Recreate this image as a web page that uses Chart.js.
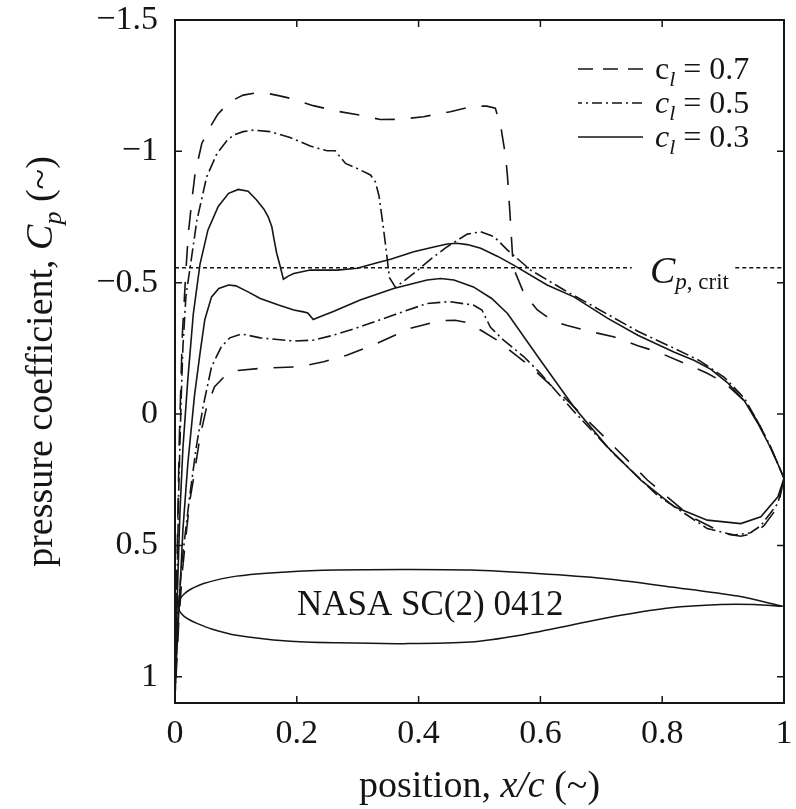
<!DOCTYPE html>
<html>
<head>
<meta charset="utf-8">
<script src="https://cdn.jsdelivr.net/npm/chart.js@4.4.1/dist/chart.umd.min.js"></script>
<style>
    html, body { margin: 0; padding: 0; background: #ffffff; }
    #wrap { position: relative; width: 796px; height: 809px; }
</style>
</head>
<body>
<div id="wrap"><canvas id="cpChart"></canvas></div>
<script>
"use strict";

/*==========================================================
    Pressure distribution, NASA SC(2) 0412
    x/c against Cp for three lift coefficients
==========================================================*/

const xTicks = [0, 0.2, 0.4, 0.6, 0.8, 1];
const yTicks = [-1.5, -1, -0.5, 0, 0.5, 1];

const seriesLabels = ["0.7", "0.5", "0.3"];

const cpCrit = -0.557;
const cpCritGap = [0.75, 0.92];   // where the label sits

// [x/c, Cp] — each surface runs from leading edge to trailing edge

const cl07Upper = [
    [0, 1.08], [0.003, 0.6], [0.007, 0.1], [0.012, -0.3], [0.018, -0.55],
    [0.022, -0.69], [0.028, -0.82], [0.033, -0.916], [0.044, -1.03],
    [0.058, -1.094], [0.07, -1.14], [0.082, -1.17], [0.097, -1.197],
    [0.112, -1.214], [0.13, -1.221], [0.151, -1.221], [0.17, -1.212],
    [0.189, -1.202], [0.208, -1.188], [0.227, -1.174], [0.266, -1.153],
    [0.304, -1.138], [0.337, -1.121], [0.37, -1.122], [0.408, -1.132],
    [0.452, -1.151], [0.49, -1.172], [0.512, -1.172], [0.526, -1.164],
    [0.535, -1.094], [0.543, -0.979], [0.546, -0.903], [0.55, -0.764],
    [0.554, -0.612], [0.556, -0.554], [0.573, -0.459], [0.595, -0.396],
    [0.62, -0.355], [0.644, -0.337], [0.68, -0.315], [0.72, -0.294],
    [0.76, -0.26], [0.792, -0.237], [0.84, -0.19], [0.874, -0.155],
    [0.902, -0.12], [0.935, -0.05], [0.957, 0.03], [0.975, 0.11],
    [0.99, 0.19], [1, 0.245]
];

const cl07Lower = [
    [0, 1.08], [0.006, 0.8], [0.012, 0.6], [0.019, 0.442], [0.025, 0.32],
    [0.03, 0.252], [0.041, 0.087], [0.052, -0.027], [0.065, -0.104],
    [0.08, -0.14], [0.099, -0.165], [0.14, -0.174], [0.206, -0.18],
    [0.244, -0.199], [0.282, -0.224], [0.332, -0.269], [0.386, -0.326],
    [0.436, -0.356], [0.46, -0.357], [0.482, -0.347], [0.505, -0.315],
    [0.529, -0.281], [0.584, -0.18], [0.644, -0.053], [0.71, 0.099],
    [0.776, 0.252], [0.847, 0.391], [0.902, 0.455], [0.929, 0.465],
    [0.95, 0.455], [0.967, 0.425], [0.99, 0.353], [1, 0.245]
];

const cl05Upper = [
    [0, 1.08], [0.003, 0.7], [0.006, 0.3], [0.01, -0.05], [0.013, -0.256],
    [0.018, -0.45], [0.025, -0.561], [0.036, -0.738], [0.052, -0.903],
    [0.069, -0.992], [0.085, -1.04], [0.096, -1.062], [0.112, -1.075],
    [0.129, -1.081], [0.156, -1.075], [0.189, -1.053], [0.222, -1.02],
    [0.25, -1.002], [0.263, -1.002], [0.28, -0.954], [0.299, -0.935],
    [0.321, -0.91], [0.329, -0.884], [0.335, -0.83], [0.341, -0.73],
    [0.347, -0.62], [0.352, -0.52], [0.362, -0.482], [0.392, -0.535],
    [0.42, -0.59], [0.447, -0.637], [0.48, -0.685], [0.502, -0.694],
    [0.524, -0.675], [0.546, -0.624], [0.584, -0.548], [0.639, -0.472],
    [0.71, -0.38], [0.76, -0.315], [0.82, -0.25], [0.86, -0.205],
    [0.902, -0.14], [0.935, -0.06], [0.957, 0.03], [0.975, 0.11],
    [0.99, 0.19], [1, 0.245]
];

const cl05Lower = [
    [0, 1.08], [0.005, 0.75], [0.012, 0.55], [0.024, 0.315], [0.035, 0.125],
    [0.046, -0.027], [0.06, -0.18], [0.076, -0.256], [0.09, -0.29],
    [0.109, -0.305], [0.14, -0.29], [0.195, -0.278], [0.227, -0.281],
    [0.26, -0.3], [0.304, -0.332], [0.359, -0.377], [0.414, -0.421],
    [0.45, -0.428], [0.49, -0.415], [0.504, -0.396], [0.518, -0.33],
    [0.54, -0.28], [0.573, -0.218], [0.6, -0.155], [0.655, -0.01],
    [0.72, 0.15], [0.792, 0.309], [0.874, 0.436], [0.918, 0.461],
    [0.945, 0.452], [0.962, 0.425], [0.99, 0.34], [1, 0.245]
];

const cl03Upper = [
    [0, 1.08], [0.002, 0.85], [0.005, 0.6], [0.008, 0.38], [0.013, 0.13],
    [0.021, -0.13], [0.03, -0.38], [0.041, -0.57], [0.054, -0.7],
    [0.071, -0.79], [0.088, -0.84], [0.104, -0.855], [0.12, -0.848],
    [0.134, -0.815], [0.146, -0.78], [0.153, -0.751], [0.159, -0.713],
    [0.163, -0.66], [0.167, -0.612], [0.173, -0.56], [0.178, -0.513],
    [0.186, -0.525], [0.195, -0.535], [0.222, -0.548], [0.266, -0.548],
    [0.299, -0.555], [0.332, -0.576], [0.354, -0.589], [0.392, -0.618],
    [0.425, -0.636], [0.447, -0.647], [0.463, -0.65], [0.48, -0.645],
    [0.502, -0.631], [0.53, -0.6], [0.556, -0.567], [0.611, -0.491],
    [0.655, -0.446], [0.71, -0.365], [0.76, -0.3], [0.82, -0.235],
    [0.852, -0.205], [0.88, -0.17], [0.907, -0.12], [0.935, -0.05],
    [0.957, 0.035], [0.975, 0.115], [0.99, 0.19], [1, 0.245]
];

const cl03Lower = [
    [0, 1.08], [0.003, 0.9], [0.007, 0.72], [0.013, 0.44], [0.021, 0.19],
    [0.032, -0.07], [0.041, -0.23], [0.049, -0.36], [0.06, -0.446],
    [0.072, -0.478], [0.088, -0.491], [0.1, -0.488], [0.12, -0.465],
    [0.14, -0.44], [0.17, -0.415], [0.195, -0.396], [0.211, -0.389],
    [0.218, -0.385], [0.227, -0.36], [0.238, -0.37], [0.26, -0.39],
    [0.304, -0.434], [0.359, -0.478], [0.414, -0.51], [0.436, -0.516],
    [0.458, -0.51], [0.49, -0.484], [0.52, -0.44], [0.546, -0.383],
    [0.6, -0.205], [0.655, -0.027], [0.71, 0.125], [0.765, 0.252],
    [0.82, 0.353], [0.874, 0.404], [0.929, 0.417], [0.962, 0.391],
    [0.99, 0.315], [1, 0.245]
];

// airfoil outline, drawn in the same axes (y in plot units)
const airfoilUpper = [
    [0.005, 0.728], [0.008, 0.705], [0.015, 0.685], [0.025, 0.668],
    [0.047, 0.645], [0.101, 0.617], [0.184, 0.601], [0.266, 0.594],
    [0.375, 0.592], [0.485, 0.594], [0.595, 0.607], [0.704, 0.626],
    [0.814, 0.658], [0.924, 0.693], [0.998, 0.732]
];

const airfoilLower = [
    [0.005, 0.728], [0.008, 0.752], [0.015, 0.77], [0.025, 0.785],
    [0.036, 0.797], [0.06, 0.818], [0.101, 0.842], [0.184, 0.864],
    [0.266, 0.871], [0.375, 0.874], [0.485, 0.868], [0.567, 0.842],
    [0.65, 0.804], [0.732, 0.766], [0.814, 0.737], [0.896, 0.725],
    [0.951, 0.725], [0.998, 0.732]
];

const airfoilName = "NASA SC(2) 0412";



/*======================================================
    STYLE
======================================================*/

const INK = "#151515";
const SERIF = '"Liberation Serif", "DejaVu Serif", serif';

const DASHED = [20, 16];
const DASH_DOT = [13, 4, 2, 4];



/*======================================================
    HELPERS
======================================================*/

function toPoints(pairs) {

    return pairs.map(([x, y]) => ({ x: x, y: y }));

}

function loop(upper, lower) {

    return toPoints(upper.concat(lower.slice().reverse()));

}

function formatTick(value) {

    const v = Math.round(value * 10) / 10;

    return v < 0 ? "\u2212" + String(-v) : String(v);

}

// fixed axis box, and no extra room for overhanging end labels
function fixBox(size) {

    return function (scale) {

        if (scale.isHorizontal()) scale.height = size;
        else scale.width = size;

        scale.paddingTop = 0;
        scale.paddingBottom = 0;
        scale.paddingLeft = 0;
        scale.paddingRight = 0;

    };

}

// draws a row of differently styled pieces of text
function drawRuns(ctx, runs, x, y, align) {

    let total = 0;

    runs.forEach((r) => {
        ctx.font = r.font;
        r.w = ctx.measureText(r.text).width;
        total += r.w;
    });

    let cx = align === "center" ? x - total / 2 : x;

    runs.forEach((r) => {
        ctx.font = r.font;
        ctx.fillText(r.text, cx, y + (r.dy || 0));
        cx += r.w;
    });

}



/*======================================================
    FRAME, TICKS, LABELS
======================================================*/

const decorPlugin = {

    id: "decor",

    afterDraw(chart) {

        const { ctx, chartArea: a } = chart;
        const xs = chart.scales.x;
        const ys = chart.scales.y;

        ctx.save();

        // plot frame
        ctx.strokeStyle = INK;
        ctx.lineWidth = 2;
        ctx.strokeRect(a.left, a.top, a.right - a.left, a.bottom - a.top);

        // inward ticks on all four sides
        ctx.lineWidth = 1.5;
        ctx.beginPath();

        xTicks.forEach((v) => {
            const px = xs.getPixelForValue(v);
            ctx.moveTo(px, a.bottom);
            ctx.lineTo(px, a.bottom - 7);
            ctx.moveTo(px, a.top);
            ctx.lineTo(px, a.top + 7);
        });

        yTicks.forEach((v) => {
            const py = ys.getPixelForValue(v);
            ctx.moveTo(a.left, py);
            ctx.lineTo(a.left + 7, py);
            ctx.moveTo(a.right, py);
            ctx.lineTo(a.right - 7, py);
        });

        ctx.stroke();

        ctx.fillStyle = INK;
        ctx.textAlign = "left";
        ctx.textBaseline = "alphabetic";

        // legend
        const legendDash = [[15, 10], [10, 4, 2, 4], []];

        seriesLabels.forEach((label, i) => {

            const ly = 69 + i * 34;

            ctx.setLineDash(legendDash[i]);
            ctx.lineDashOffset = i === 1 ? 6 : 0;
            ctx.lineWidth = 1.6;
            ctx.beginPath();
            ctx.moveTo(578, ly);
            ctx.lineTo(643, ly);
            ctx.stroke();

            drawRuns(ctx, [
                { text: "c", font: (i === 0 ? "" : "italic ") + "32px " + SERIF },
                { text: "l", font: "italic 22px " + SERIF, dy: 7 },
                { text: " = " + label, font: "32px " + SERIF }
            ], 655, ly + 10, "left");

        });

        ctx.setLineDash([]);

        // Cp, crit label
        drawRuns(ctx, [
            { text: "C", font: "italic 38px " + SERIF },
            { text: "p", font: "italic 23px " + SERIF, dy: 6 },
            { text: ", crit", font: "23px " + SERIF, dy: 6 }
        ], 650, 283, "left");

        // airfoil name
        drawRuns(ctx, [
            { text: airfoilName, font: "35px " + SERIF }
        ], xs.getPixelForValue(0.419), ys.getPixelForValue(0.766), "center");

        // x title
        drawRuns(ctx, [
            { text: "position, ", font: "38px " + SERIF },
            { text: "x/c", font: "italic 38px " + SERIF },
            { text: " (~)", font: "38px " + SERIF }
        ], (a.left + a.right) / 2, 797, "center");

        // y title, rotated
        ctx.translate(52, (a.top + a.bottom) / 2);
        ctx.rotate(-Math.PI / 2);

        drawRuns(ctx, [
            { text: "pressure coefficient, ", font: "38px " + SERIF },
            { text: "C", font: "italic 38px " + SERIF },
            { text: "p", font: "italic 26px " + SERIF, dy: 9 },
            { text: " (~)", font: "38px " + SERIF }
        ], 0, 0, "center");

        ctx.restore();

    }

};



/*======================================================
    CHART
======================================================*/

const curveStyle = {
    showLine: true,
    fill: false,
    pointRadius: 0,
    borderColor: INK,
    borderWidth: 1.6,
    tension: 0
};

new Chart(document.getElementById("cpChart"), {

    type: "scatter",

    data: {

        datasets: [

            Object.assign({}, curveStyle, {
                label: "cl = " + seriesLabels[0],
                data: loop(cl07Upper, cl07Lower),
                borderDash: DASHED
            }),

            Object.assign({}, curveStyle, {
                label: "cl = " + seriesLabels[1],
                data: loop(cl05Upper, cl05Lower),
                borderDash: DASH_DOT
            }),

            Object.assign({}, curveStyle, {
                label: "cl = " + seriesLabels[2],
                data: loop(cl03Upper, cl03Lower)
            }),

            Object.assign({}, curveStyle, {
                label: "Cp, crit",
                data: [
                    { x: 0, y: cpCrit },
                    { x: cpCritGap[0], y: cpCrit },
                    { x: (cpCritGap[0] + cpCritGap[1]) / 2, y: null },
                    { x: cpCritGap[1], y: cpCrit },
                    { x: 1, y: cpCrit }
                ],
                borderDash: [4, 3],
                borderWidth: 1.5,
                spanGaps: false
            }),

            Object.assign({}, curveStyle, {
                label: airfoilName,
                data: loop(airfoilUpper, airfoilLower),
                borderWidth: 1.5,
                tension: 0.3
            })

        ]

    },

    options: {

        responsive: true,
        maintainAspectRatio: false,
        animation: false,
        devicePixelRatio: 1,

        layout: {
            padding: { left: 0, right: 12, top: 20, bottom: 0 }
        },

        scales: {

            x: {
                type: "linear",
                min: 0,
                max: 1,
                grid: { display: false, drawTicks: false },
                border: { display: false },
                afterBuildTicks(scale) {
                    scale.ticks = xTicks.map((v) => ({ value: v }));
                },
                afterFit: fixBox(106),
                ticks: {
                    padding: 11,
                    color: INK,
                    font: { family: SERIF, size: 34 },
                    maxRotation: 0,
                    callback: formatTick
                }
            },

            y: {
                type: "linear",
                reverse: true,
                min: -1.5,
                max: 1.1,
                grid: { display: false, drawTicks: false },
                border: { display: false },
                afterBuildTicks(scale) {
                    scale.ticks = yTicks.map((v) => ({ value: v }));
                },
                afterFit: fixBox(175),
                ticks: {
                    padding: 17,
                    color: INK,
                    font: { family: SERIF, size: 34 },
                    callback: formatTick
                }
            }

        },

        plugins: {
            legend: { display: false },
            tooltip: { enabled: false },
            title: { display: false }
        }

    },

    plugins: [decorPlugin]

});
</script>
</body>
</html>
